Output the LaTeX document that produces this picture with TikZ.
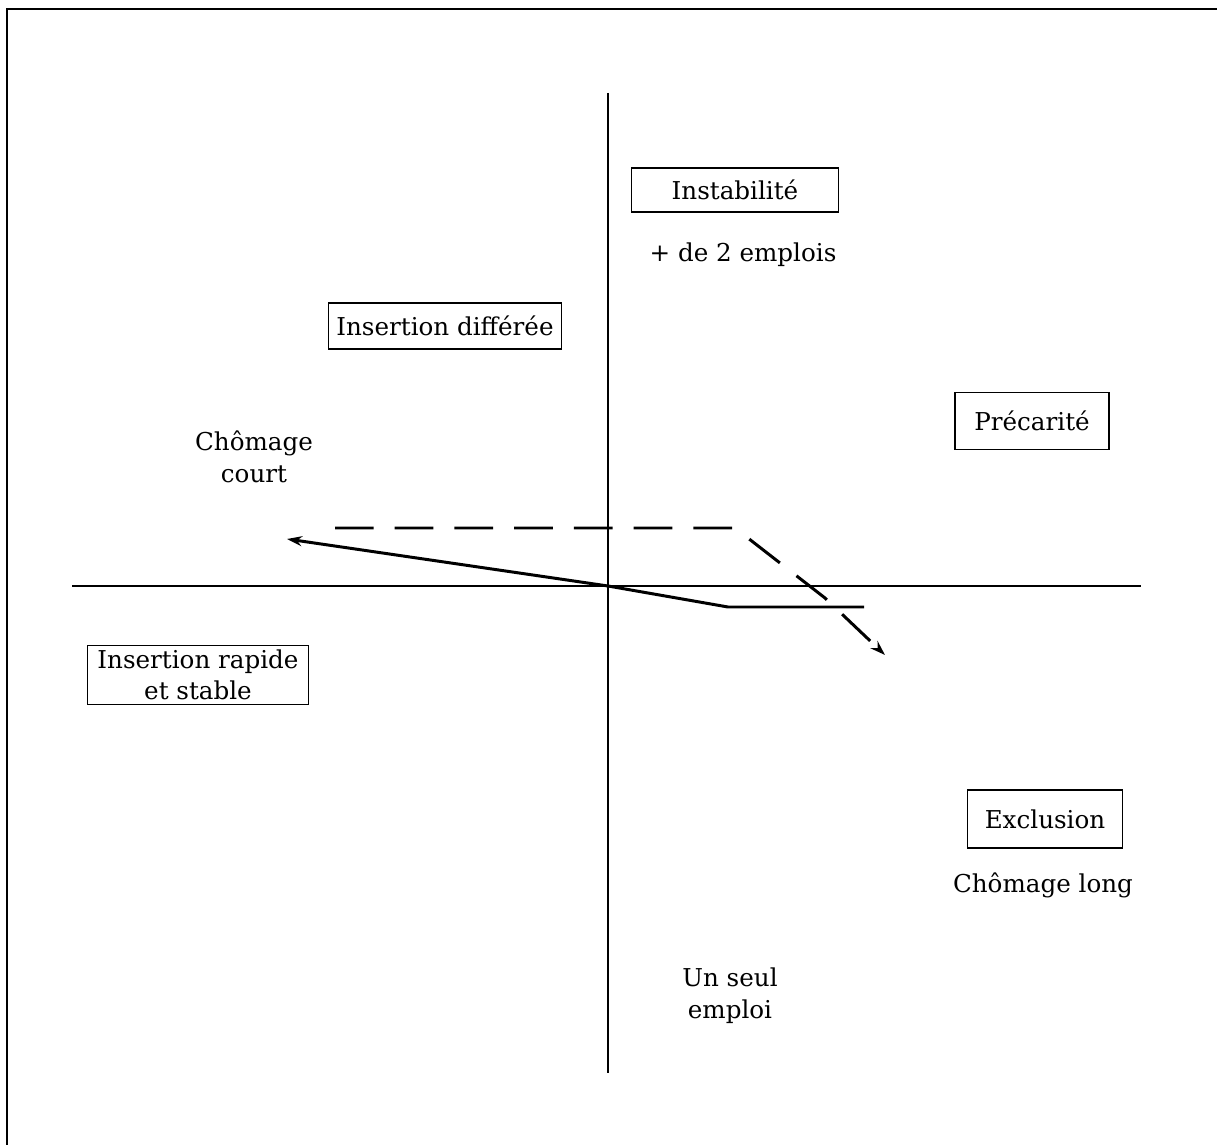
\documentclass[tikz,border=0pt]{standalone}
\usepackage{fontspec}
\setmainfont{DejaVu Serif}
\usetikzlibrary{arrows.meta,positioning}
\tikzset{
  axis/.style={draw=black,line width=1.6pt},
  frameline/.style={draw=black,line width=1.4pt},
  zone/.style={draw=black,line width=0.8pt,align=center,inner sep=2pt,
    font=\fontsize{14}{17.5}\selectfont},
  note/.style={align=center,inner sep=0pt,font=\fontsize{14}{18}\selectfont},
  track/.style={-{Stealth[length=3mm,width=2mm]},draw=black,line width=1.7pt},
  trackdash/.style={track,dash pattern=on 22pt off 12pt}
}
\begin{document}
\begin{tikzpicture}[x=0.02cm,y=-0.02cm]
        \useasboundingbox (0,0) rectangle (1217,1145);
        \draw[frameline] (1217,9) -- (7,9) -- (7,1145);
        \coordinate (o) at (608,586);
        \coordinate (ytop) at (608,93);
        \coordinate (ybot) at (608,1073);
        \coordinate (xleft) at (72,586);
        \coordinate (xright) at (1141,586);
        \draw[axis] (ytop) -- (ybot);
        \draw[axis] (xleft) -- (xright);
        \node[zone,minimum width=4.14cm,minimum height=0.88cm] (instab) at (735,190) {Instabilité};
        \node[note] (plus) at (743,255) {+ de 2 emplois};
        \node[zone,minimum width=4.66cm,minimum height=0.92cm] (differee) at (445,326) {Insertion différée};
        \node[zone,minimum width=3.08cm,minimum height=1.14cm] (precarite) at (1032,421) {Précarité};
        \node[note] (court) at (254,457) {Chômage\\court};
        \node[zone,minimum width=4.42cm,minimum height=1.18cm,inner sep=1pt] (rapide) at (198,675) {Insertion rapide\\et stable};
        \node[zone,minimum width=3.1cm,minimum height=1.16cm] (exclusion) at (1045,819) {Exclusion};
        \node[note] (long) at (1043,885) {Chômage long};
        \node[note] (seul) at (730,996) {Un seul\\emploi};
        \coordinate (s0) at (864,607);
        \coordinate (s1) at (728,607);
        \coordinate (s2) at (287,539);
        \coordinate (d0) at (335,528);
        \coordinate (d1) at (735,528);
        \coordinate (d2) at (825,598);
        \coordinate (d3) at (885,655);
        \draw[track] (s0) -- (s1) -- (o) -- (s2);
        \draw[trackdash] (d0) -- (d1) -- (d2) -- (d3);
      \end{tikzpicture}
\end{document}
